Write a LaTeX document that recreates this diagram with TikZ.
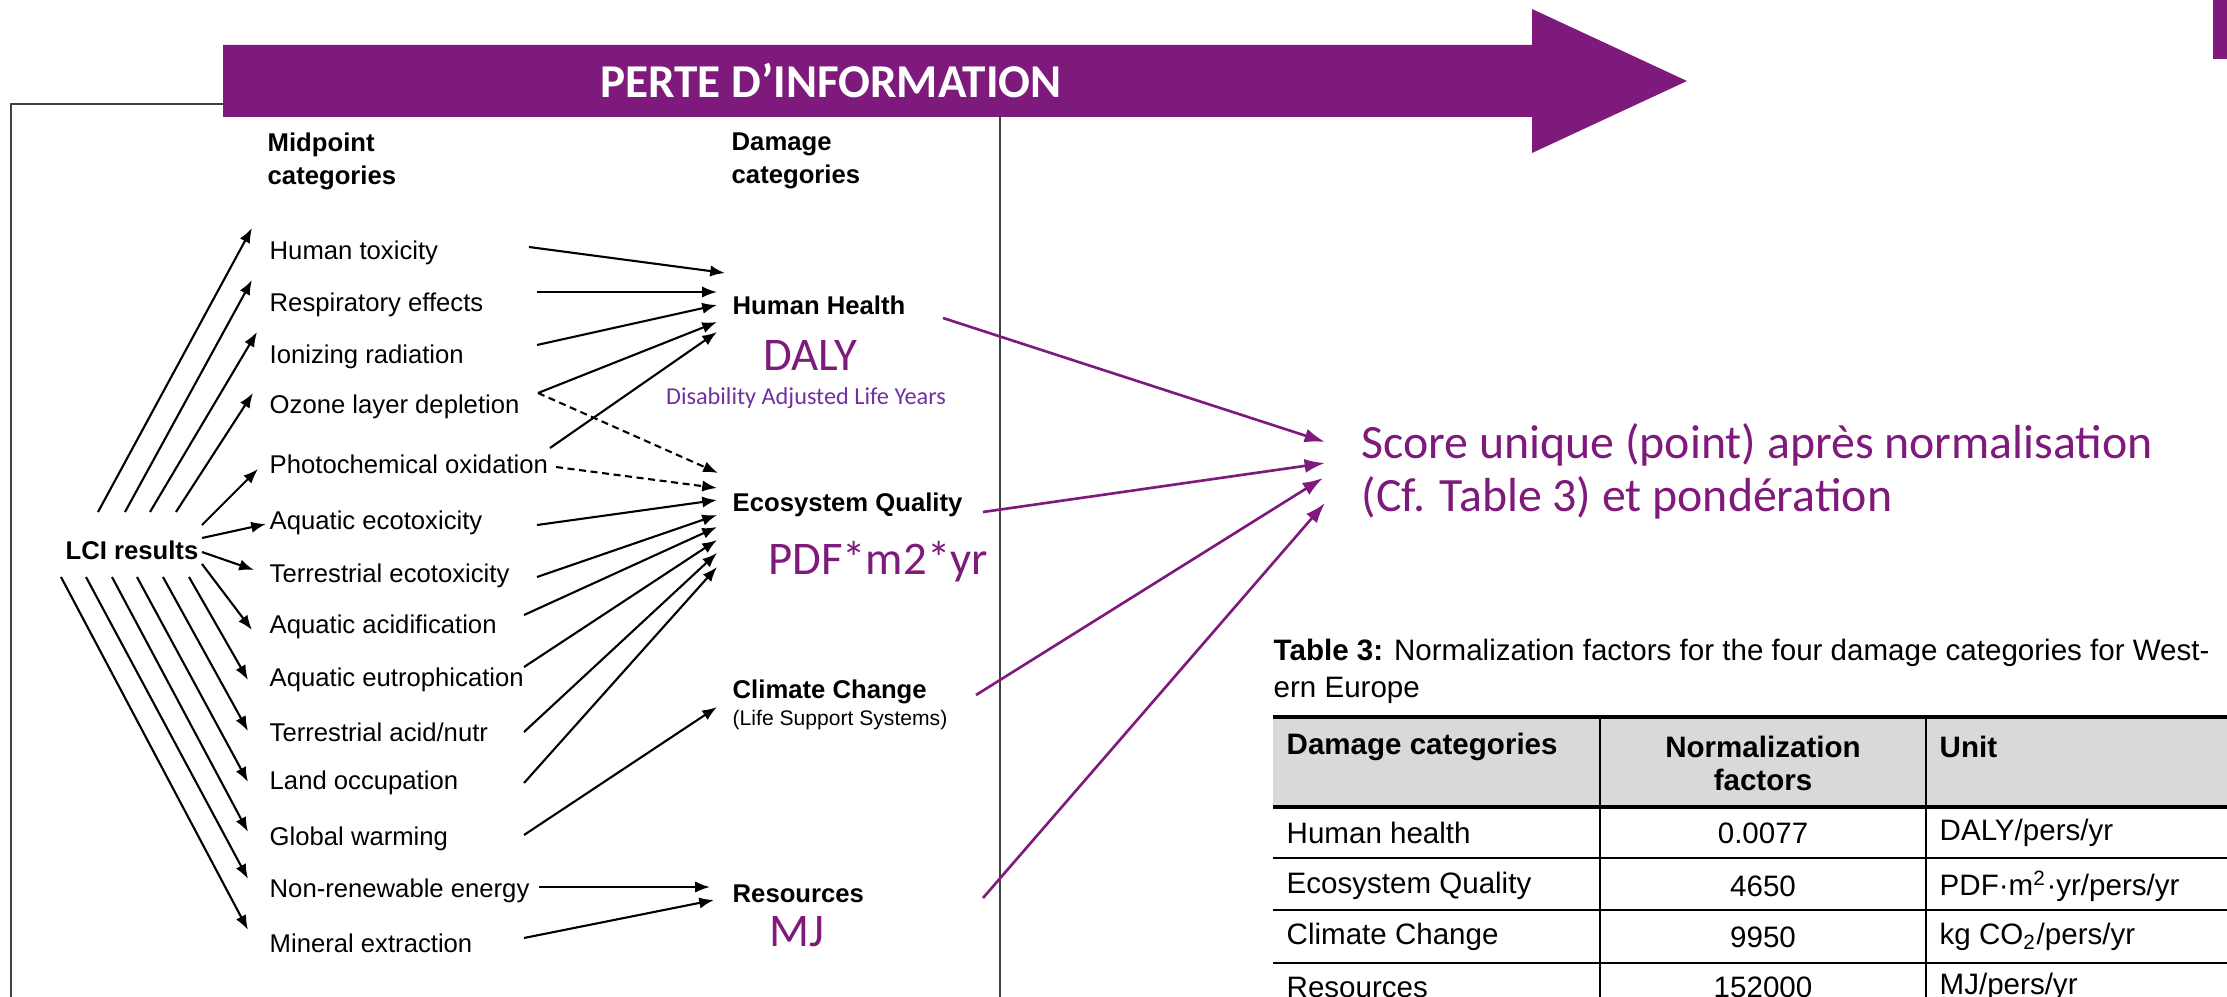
\documentclass[tikz,border=0pt]{standalone}
\usepackage{fontspec}
\setmainfont{Liberation Sans}
\newfontfamily\calibri{Carlito}
\usetikzlibrary{arrows.meta, calc, positioning}
\definecolor{perte}{HTML}{7E1A7C}
\definecolor{dalyviolet}{HTML}{7030A0}
\definecolor{headgray}{HTML}{D9D9D9}
\definecolor{framegray}{HTML}{404040}

\tikzset{
  midcat/.style={anchor=west, inner sep=0pt, font=\fontsize{7.3}{8.8}\selectfont},
  dmgcat/.style={anchor=west, inner sep=0pt, font=\fontsize{7.3}{8.8}\selectfont\bfseries},
  hdr/.style={anchor=west, inner sep=0pt, align=left, font=\fontsize{7.3}{9.4}\selectfont\bfseries},
  flow/.style={line width=0.6pt, -{Latex[length=4.2pt,width=3.2pt]}},
  dflow/.style={flow, dash pattern=on 2pt off 1.3pt},
  toscore/.style={draw=perte, line width=0.75pt, -{Latex[length=5.8pt,width=4pt]}},
  unitlbl/.style={inner sep=0pt, text=perte, font=\calibri\fontsize{13.3}{15}\selectfont},
  tabtxt/.style={inner sep=0pt, font=\fontsize{8.4}{9.4}\selectfont},
  tabhdr/.style={inner sep=0pt, align=center, font=\fontsize{8.4}{9.4}\selectfont\bfseries},
}

\begin{document}
\begin{tikzpicture}[x=0.01cm, y=-0.01cm]
\useasboundingbox (0,0) rectangle (2227,997);

% frame round the impact scheme
\draw[line width=0.65pt, framegray] (11,104) rectangle (1000,1020);

% big purple arrow
\fill[perte] (223,45) -- (1532,45) -- (1532,9) -- (1687,81) -- (1532,153) -- (1532,117) -- (223,117) -- cycle;
\node[font=\calibri\bfseries\fontsize{13.4}{15}\selectfont, text=white] (titre) at (831,81) {PERTE D’INFORMATION};
\fill[perte] (2213,0) rectangle (2227,59);

% column headers
\node[hdr] (hmid) at (267,161) {Midpoint\\categories};
\node[hdr] (hdmg) at (731,161) {Damage\\categories};

% midpoint categories
\foreach \lbl/\yy [count=\i from 0] in {Human toxicity/253, Respiratory effects/305, Ionizing radiation/357,
    Ozone layer depletion/407, Photochemical oxidation/464, Aquatic ecotoxicity/523,
    Terrestrial ecotoxicity/576, Aquatic acidification/627, Aquatic eutrophication/680,
    {Terrestrial acid/nutr}/732, Land occupation/783, Global warming/839,
    Non-renewable energy/891, Mineral extraction/943}
  \node[midcat] (m\i) at (269,\yy) {\lbl};

\node[dmgcat, anchor=center] (lci) at (132,550) {LCI results};

% damage categories
\node[dmgcat] (hh) at (732,305) {Human Health};
\node[dmgcat] (eq) at (732,505) {Ecosystem Quality};
\node[dmgcat] (cc) at (732,692) {Climate Change};
\node[anchor=west, inner sep=0pt, font=\fontsize{6}{7}\selectfont] (lss) at (732,720) {(Life Support Systems)};
\node[dmgcat] (res) at (732,894) {Resources};

% units
\node[unitlbl] (daly) at (810,355) {DALY};
\node[inner sep=0pt, text=dalyviolet, font=\calibri\fontsize{6.9}{8}\selectfont] (dalyfull) at (806,398) {Disability Adjusted Life Years};
\node[unitlbl] (pdf) at (878,562) {PDF*m2*yr};
\node[unitlbl] (mj) at (797,932) {MJ};

% LCI results -> midpoints
\foreach \i/\sx/\sy/\tx/\ty in {0/-34/-38/-17/-25, 1/-7/-38/-17/-25, 2/18/-38/-12/-25, 3/44/-38/-16/-14,
    4/70/-25/-11/5, 5/70/-12/-3/1, 6/70/2/-15/-6, 7/70/14/-17/3, 8/57/27/-21/0, 9/31/27/-21/-1,
    10/5/27/-21/-1, 11/-20/27/-21/-7, 12/-46/27/-21/-12, 13/-71/27/-21/-13}
  \draw[flow] ($(lci.center)+(\sx,\sy)$) -- ($(m\i.west)+(\tx,\ty)$);

% midpoints -> damage
\foreach \i/\sx/\sy/\d/\tx/\ty in {0/260/-6/hh/-7/-32, 1/268/-13/hh/-15/-13, 2/268/-12/hh/-15/0,
    3/269/-14/hh/-15/17, 4/281/-16/hh/-15/27, 5/268/2/eq/-15/-5, 6/268/1/eq/-15/10,
    7/255/-12/eq/-15/22, 8/255/-13/eq/-15/35, 9/255/0/eq/-15/48, 10/255/0/eq/-15/62,
    11/255/-4/cc/-15/15, 12/270/-4/res/-22/-7, 13/255/-5/res/-18/6}
  \draw[flow] ($(m\i.west)+(\sx,\sy)$) -- ($(\d.west)+(\tx,\ty)$);
\draw[dflow] ($(m3.west)+(269,-14)$) -- ($(eq.west)+(-14,-32)$);
\draw[dflow] ($(m4.west)+(287,3)$) -- ($(eq.west)+(-15,-17)$);

% single score
\node[anchor=west, inner sep=0pt, align=left, text=perte, font=\calibri\fontsize{13.6}{15.1}\selectfont] (sc) at (1361,471)
  {Score unique (point) après normalisation\\(Cf. Table 3) et pondération};
\draw[toscore] ($(hh.west)+(211,13)$) -- ($(sc.west)+(-36,-29)$);
\draw[toscore] ($(eq.west)+(251,7)$) -- ($(sc.west)+(-36,-8)$);
\draw[toscore] ($(cc.west)+(244,3)$) -- ($(sc.west)+(-38,7)$);
\draw[toscore] ($(res.west)+(251,4)$) -- ($(sc.west)+(-36,32)$);

% table 3
\node[tabtxt, anchor=west] (cap1) at (1273,653) {\textbf{Table 3:} Normalization factors for the four damage categories for West-};
\node[tabtxt, anchor=west] (cap2) at (1273,690) {ern Europe};
\fill[headgray] (1273,717) rectangle (2240,807);
\draw[line width=1pt] (1273,717) -- (2240,717);
\draw[line width=1pt] (1273,807) -- (2240,807);
\draw[line width=0.5pt] (1273,858) -- (2240,858);
\draw[line width=0.8pt] (1273,910) -- (2240,910);
\draw[line width=0.8pt] (1273,963) -- (2240,963);
\foreach \x in {1600,1926}
  \draw[line width=0.8pt] (\x,717) -- (\x,1010);

\node[tabhdr, anchor=west] (tc1) at (1286,747) {Damage categories};
\node[tabhdr] (tc2) at (1763,763) {Normalization\\factors};
\node[tabhdr, anchor=west] (tc3) at (1939,747) {Unit};

\node[tabtxt, anchor=west] (r1a) at (1286,833) {Human health};
\node[tabtxt] (r1b) at (1763,833) {0.0077};
\node[tabtxt, anchor=west] (r1c) at (1939,833) {DALY/pers/yr};
\node[tabtxt, anchor=west] (r2a) at (1286,886) {Ecosystem Quality};
\node[tabtxt] (r2b) at (1763,886) {4650};
\node[tabtxt, anchor=west] (r2c) at (1939,886) {PDF·m\textsuperscript{2}·yr/pers/yr};
\node[tabtxt, anchor=west] (r3a) at (1286,937) {Climate Change};
\node[tabtxt] (r3b) at (1763,937) {9950};
\node[tabtxt, anchor=west] (r3c) at (1939,937) {kg CO\textsubscript{2}/pers/yr};
\node[tabtxt, anchor=west] (r4a) at (1286,987) {Resources};
\node[tabtxt] (r4b) at (1763,987) {152000};
\node[tabtxt, anchor=west] (r4c) at (1939,987) {MJ/pers/yr};
\end{tikzpicture}
\end{document}
